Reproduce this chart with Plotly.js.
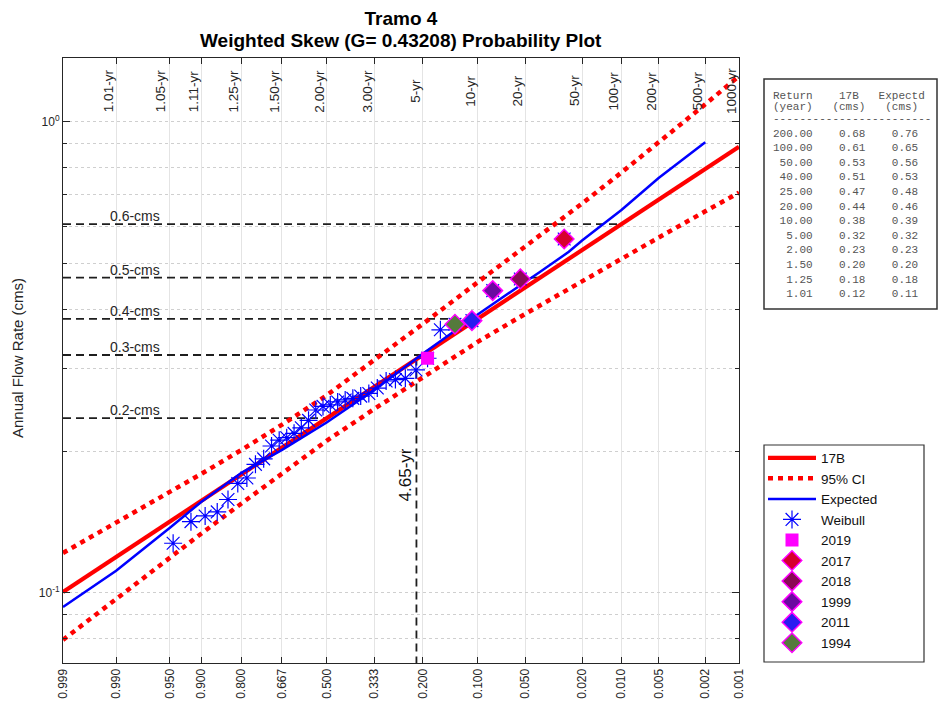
<!DOCTYPE html>
<html><head><meta charset="utf-8">
<script src="https://cdn.plot.ly/plotly-3.0.1.min.js"></script>
<style>html,body{margin:0;padding:0;background:#fff;}#plot{width:939px;height:704px;}</style>
</head><body><div id="plot"></div>
<script>
// ---------------- data ----------------
const skewG = 0.43208;
const titleLine1 = 'Tramo 4';
const titleLine2 = 'Weighted Skew (G= 0.43208) Probability Plot';
const tickProb   = [0.999,0.990,0.950,0.900,0.800,0.667,0.500,0.333,0.200,0.100,0.050,0.020,0.010,0.005,0.002,0.001];
const tickLabels = ['0.999','0.990','0.950','0.900','0.800','0.667','0.500','0.333','0.200','0.100','0.050','0.020','0.010','0.005','0.002','0.001'];
const returnProb   = [0.990,0.952,0.900,0.800,0.667,0.500,0.333,0.200,0.100,0.050,0.020,0.010,0.005,0.002,0.001];
const returnLabels = ['1.01-yr','1.05-yr','1.11-yr','1.25-yr','1.50-yr','2.00-yr','3.00-yr','5-yr','10-yr','20-yr','50-yr','100-yr','200-yr','500-yr','1000-yr'];

const fitProb = [0.999,0.990,0.500,0.010,0.001];
const fit17B  = [0.1005,0.1192,0.2349,0.607,0.886];

const ciProb  = [0.999,0.990,0.950,0.900,0.800,0.667,0.500,0.333,0.200,0.100,0.050,0.020,0.010,0.005,0.002,0.001];
const ciUpper = [0.1216,0.1408,0.1637,0.1789,0.2012,0.2274,0.2628,0.3119,0.3725,0.4566,0.5445,0.6711,0.7808,0.9042,1.0899,1.2513];
const ciLower = [0.0795,0.0972,0.1192,0.1336,0.1549,0.1794,0.2104,0.2460,0.2874,0.3413,0.3916,0.4596,0.5129,0.5682,0.6460,0.7079];

const expProb  = [0.999,0.990,0.950,0.900,0.800,0.667,0.500,0.333,0.200,0.100,0.050,0.040,0.025,0.020,0.010,0.005,0.002];
const expected = [0.0934,0.1115,0.1375,0.156,0.180,0.201,0.230,0.270,0.322,0.390,0.458,0.480,0.530,0.560,0.650,0.760,0.906];

const weibullProb = [0.0270,0.0541,0.0811,0.1081,0.1351,0.1622,0.1892,0.2162,0.2432,0.2703,0.2973,0.3243,0.3514,0.3784,0.4054,0.4324,0.4595,0.4865,0.5135,0.5405,0.5676,0.5946,0.6216,0.6486,0.6757,0.7027,0.7297,0.7568,0.7838,0.8108,0.8378,0.8649,0.8919,0.9189,0.9459];
const weibullQ    = [0.5644,0.4642,0.4384,0.3786,0.372,0.362,0.315,0.2975,0.2855,0.2838,0.2818,0.2723,0.2652,0.2618,0.2589,0.2569,0.2544,0.2507,0.2489,0.2446,0.2325,0.2242,0.2182,0.2136,0.2110,0.2051,0.1926,0.1875,0.1754,0.1708,0.1579,0.1486,0.1457,0.1417,0.1275];

const eventYears  = ['2019','2017','2018','1999','2011','1994'];
const eventProb   = [0.1892,0.0270,0.0541,0.0811,0.1081,0.1351];
const eventQ      = [0.315,0.5644,0.4642,0.4384,0.3786,0.372];
const eventColors = ['#ff00ff','#d6002e','#8a0a55','#6a0aa0','#2a1cf0','#557a3c'];
const eventSymbols= ['square','diamond','diamond','diamond','diamond','diamond'];

const refQ      = [0.607,0.467,0.382,0.320,0.235];
const refEndProb= [0.010,0.040,0.100,0.200,0.500];
const refLabels = ['0.6-cms','0.5-cms','0.4-cms','0.3-cms','0.2-cms'];

const markProb = 0.2151, markQ = 0.3137, markLabel = '4.65-yr';

const tableHead = ['Return    17B   Expectd','(year)   (cms)   (cms)','------------------------'];
const tableRet  = ['200.00','100.00','50.00','40.00','25.00','20.00','10.00','5.00','2.00','1.50','1.25','1.01'];
const table17B  = ['0.68','0.61','0.53','0.51','0.47','0.44','0.38','0.32','0.23','0.20','0.18','0.12'];
const tableExp  = ['0.76','0.65','0.56','0.53','0.48','0.46','0.39','0.32','0.23','0.20','0.18','0.11'];

// ---------------- probability (Pearson III) scale ----------------
function normInv(p){
  const a=[-3.969683028665376e+01,2.209460984245205e+02,-2.759285104469687e+02,1.383577518672690e+02,-3.066479806614716e+01,2.506628277459239e+00];
  const b=[-5.447609879822406e+01,1.615858368580409e+02,-1.556989798598866e+02,6.680131188771972e+01,-1.328068155288572e+01];
  const c=[-7.784894002430293e-03,-3.223964580411365e-01,-2.400758277161838e+00,-2.549732539343734e+00,4.374664141464968e+00,2.938163982698783e+00];
  const d=[7.784695709041462e-03,3.224671290700398e-01,2.445134137142996e+00,3.754408661907416e+00];
  const pl=0.02425, ph=1-pl; let q,r;
  if(p<pl){q=Math.sqrt(-2*Math.log(p));return (((((c[0]*q+c[1])*q+c[2])*q+c[3])*q+c[4])*q+c[5])/((((d[0]*q+d[1])*q+d[2])*q+d[3])*q+1);}
  if(p<=ph){q=p-0.5;r=q*q;return (((((a[0]*r+a[1])*r+a[2])*r+a[3])*r+a[4])*r+a[5])*q/(((((b[0]*r+b[1])*r+b[2])*r+b[3])*r+b[4])*r+1);}
  q=Math.sqrt(-2*Math.log(1-p));return -(((((c[0]*q+c[1])*q+c[2])*q+c[3])*q+c[4])*q+c[5])/((((d[0]*q+d[1])*q+d[2])*q+d[3])*q+1);
}
function pToK(p){ const z=normInv(1-p), g=skewG; return (2/g)*(Math.pow(1+g*z/6-g*g/36,3)-1); }
const K = arr => arr.map(pToK);

// ---------------- layout helpers ----------------
const F='Liberation Sans, Arial, Helvetica, sans-serif';
const MONO='Liberation Mono, Courier New, monospace';
const PL=63, PR=739, PT=58, PB=663, PW=PR-PL, PH=PB-PT;
const px = x => (x-PL)/PW, py = y => (PB-y)/PH;
const AX='#262626';

const traces=[];
refQ.forEach((q,i)=>traces.push({x:[pToK(0.999),pToK(refEndProb[i])],y:[q,q],mode:'lines',
  line:{color:'#1e1e1e',width:1.8,dash:'8px,5px'},showlegend:false,hoverinfo:'skip'}));
traces.push({x:[pToK(markProb),pToK(markProb)],y:[0.0705,markQ],mode:'lines',
  line:{color:'#1e1e1e',width:1.8,dash:'8px,5px'},showlegend:false,hoverinfo:'skip'});
traces.push({name:'17B',x:K(fitProb),y:fit17B,mode:'lines',line:{color:'#ff0000',width:4.2},legendrank:1});
traces.push({name:'95% CI',x:K(ciProb),y:ciUpper,mode:'lines',line:{color:'#ff0000',width:4.5,dash:'5px,5px'},legendrank:2,legendgroup:'ci'});
traces.push({name:'95% CI',x:K(ciProb),y:ciLower,mode:'lines',line:{color:'#ff0000',width:4.5,dash:'5px,5px'},legendgroup:'ci',showlegend:false});
traces.push({name:'Expected',x:K(expProb),y:expected,mode:'lines',line:{color:'#0000ff',width:2.5},legendrank:3});
traces.push({name:'Weibull',x:K(weibullProb),y:weibullQ,mode:'markers',
  marker:{symbol:'asterisk-open',size:15,color:'#0000ff',line:{color:'#0000ff',width:1.2}},legendrank:4});
eventYears.forEach((yr,i)=>traces.push({name:yr,x:[pToK(eventProb[i])],y:[eventQ[i]],mode:'markers',
  marker:{symbol:eventSymbols[i],size:eventSymbols[i]==='square'?13:15,color:eventColors[i],
  line:{color:'#ff00ff',width:eventSymbols[i]==='square'?0:1.5}},legendrank:5+i}));

const ann=[];
ann.push({text:'<b>'+titleLine2+'</b>',xref:'paper',yref:'paper',x:0.5,xanchor:'center',y:py(41),yanchor:'middle',
  showarrow:false,font:{family:F,size:19,color:'#000'}});
ann.push({text:'Annual Flow Rate (cms)',xref:'paper',yref:'paper',x:px(17),y:py(358),xanchor:'center',yanchor:'middle',
  textangle:-90,showarrow:false,font:{family:F,size:15,color:AX}});
returnLabels.forEach((t,i)=>ann.push({text:t,xref:'x',yref:'paper',x:pToK(returnProb[i]),xshift:-8,y:py(91),yanchor:'middle',
  textangle:-90,showarrow:false,font:{family:F,size:13.5,color:AX}}));
refLabels.forEach((t,i)=>ann.push({text:t,xref:'paper',yref:'y',x:px(108),xanchor:'left',y:Math.log10(refQ[i]),yshift:8,
  yanchor:'middle',showarrow:false,font:{family:F,size:14,color:AX}}));
ann.push({text:markLabel,xref:'x',yref:'paper',x:pToK(markProb),xshift:-11,y:py(475),yanchor:'middle',textangle:-90,showarrow:false,
  font:{family:F,size:17,color:'#111'}});
const nb = s => s.replace(/ /g,'\u00a0');
const pad = (s,n) => ' '.repeat(Math.max(0,n-s.length))+s;
const tRows=[{t:tableHead[0],y:96.5},{t:tableHead[1],y:106.5},{t:tableHead[2],y:119}];
tableRet.forEach((r,i)=>tRows.push({t:pad(r,6)+'    '+table17B[i]+'    '+tableExp[i],y:133.5+14.6*i}));
tRows.forEach(r=>ann.push({text:nb(r.t),xref:'paper',yref:'paper',x:px(771),xanchor:'left',y:py(r.y),yanchor:'middle',
  showarrow:false,font:{family:MONO,size:11,color:'#555'}}));

const shapes=[
  {type:'rect',xref:'paper',yref:'paper',x0:px(764),x1:px(937),y0:py(309),y1:py(79),line:{color:'#333',width:1.5},fillcolor:'#fff',layer:'below'},
  {type:'rect',xref:'paper',yref:'paper',x0:px(764),x1:px(924),y0:py(662),y1:py(445),line:{color:'#333',width:1.2},fillcolor:'#fff',layer:'below'}
];

const layout={
  width:939,height:704,margin:{l:PL,r:939-PR,t:PT,b:704-PB},
  paper_bgcolor:'#fff',plot_bgcolor:'#fff',
  font:{family:F,color:AX},
  title:{text:'<b>'+titleLine1+'</b>',xref:'paper',x:0.5,xanchor:'center',
    yref:'container',y:1-18/704,yanchor:'middle',font:{family:F,size:19,color:'#000'}},
  xaxis:{range:[pToK(0.999),pToK(0.001)],tickmode:'array',tickvals:K(tickProb),ticktext:tickLabels,tickangle:-90,
    ticks:'inside',ticklen:6,tickcolor:AX,showline:true,linecolor:AX,linewidth:1,mirror:'ticks',
    showgrid:true,gridcolor:'#e4e4e4',gridwidth:1,zeroline:false,tickfont:{family:F,size:12,color:AX}},
  yaxis:{type:'log',range:[Math.log10(0.0710),Math.log10(1.367)],tickmode:'array',tickvals:[0.1,1],
    ticktext:['10<sup>-1</sup>','10<sup>0</sup>'],ticks:'inside',ticklen:7,tickcolor:AX,showline:true,linecolor:AX,linewidth:1,
    mirror:'ticks',showgrid:true,gridcolor:'#cfcfcf',griddash:'dot',zeroline:false,tickfont:{family:F,size:12,color:AX},
    minor:{tickmode:'array',tickvals:[0.08,0.09,0.2,0.3,0.4,0.5,0.6,0.7,0.8,0.9],ticks:'inside',ticklen:4,tickcolor:AX,
      showgrid:true,gridcolor:'#cfcfcf',griddash:'dot'}},
  legend:{x:px(763),xanchor:'left',y:py(442.5),yanchor:'top',bgcolor:'rgba(0,0,0,0)',borderwidth:0,itemwidth:48,
    font:{family:F,size:13.5,color:'#111'},traceorder:'normal'},
  showlegend:true,annotations:ann,shapes:shapes
};
Plotly.newPlot('plot',traces,layout,{staticPlot:true,displayModeBar:false});
</script></body></html>
